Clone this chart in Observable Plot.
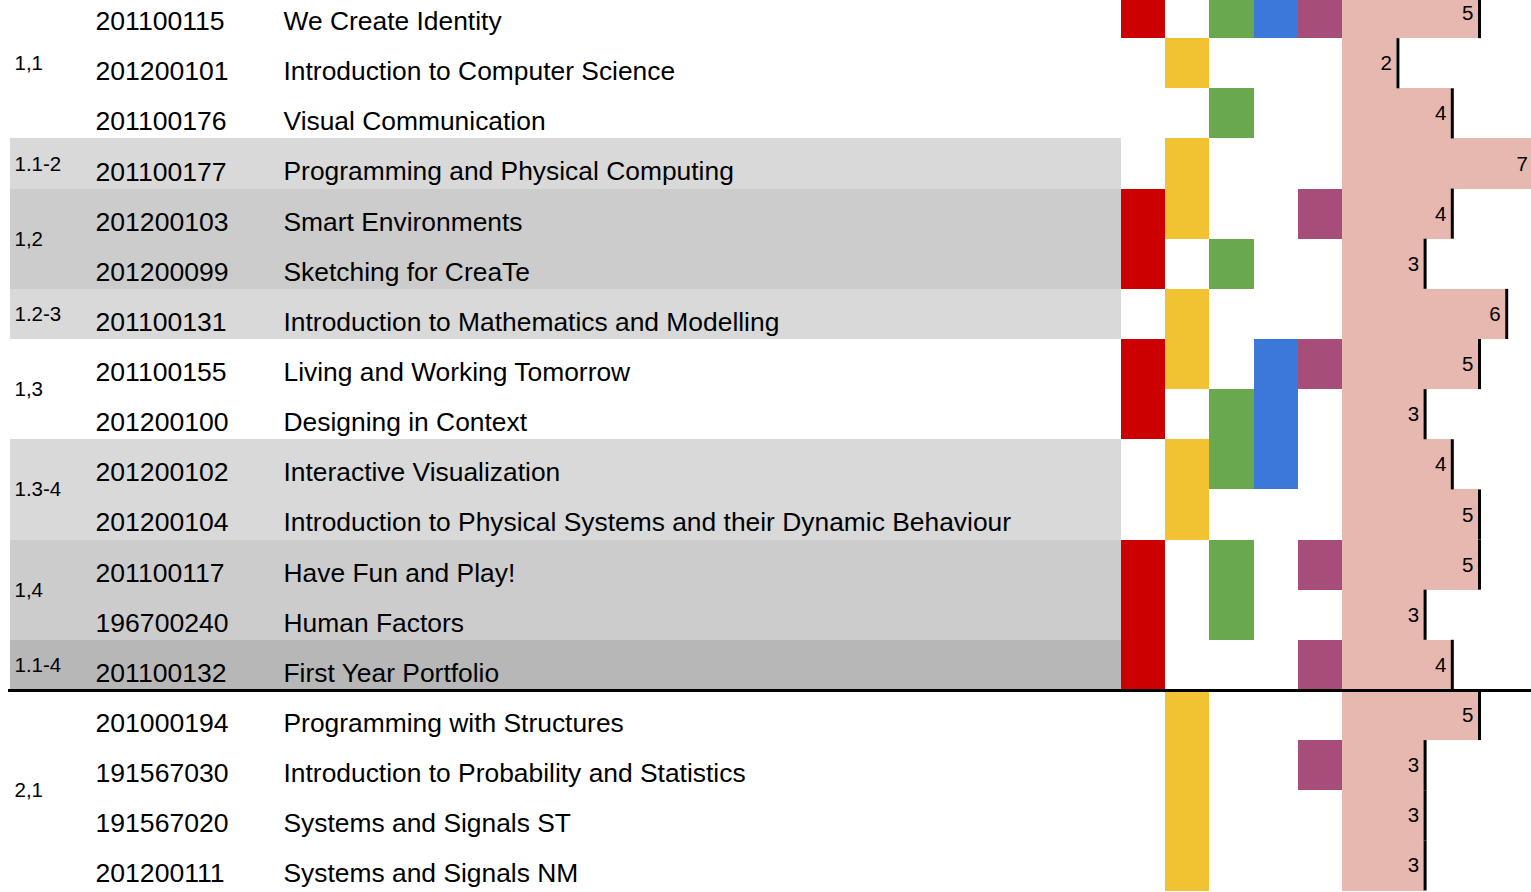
<!DOCTYPE html>
<html>
<head>
<meta charset="utf-8">
<script src="https://cdn.jsdelivr.net/npm/d3@7"></script>
<script src="https://cdn.jsdelivr.net/npm/@observablehq/plot@0.6"></script>
<style>
  html, body { margin: 0; padding: 0; background: #fff; overflow: hidden; }
  #wrap { position: relative; width: 1531px; height: 892px; }
  #wrap > div { position: absolute; top: 0; }
</style>
</head>
<body>
<div id="wrap">
  <div id="table" style="left:0px"></div>
  <div id="cells" style="left:1121px"></div>
  <div id="bars" style="left:1342px"></div>
</div>
<script>
// ---- data ----
const groups = ["1,1","1,1","1,1","1.1-2","1,2","1,2","1.2-3","1,3","1,3","1.3-4","1.3-4","1,4","1,4","1.1-4","2,1","2,1","2,1","2,1"];
const codes = ["201100115","201200101","201100176","201100177","201200103","201200099","201100131","201100155","201200100","201200102","201200104","201100117","196700240","201100132","201000194","191567030","191567020","201200111"];
const names = ["We Create Identity","Introduction to Computer Science","Visual Communication","Programming and Physical Computing","Smart Environments","Sketching for CreaTe","Introduction to Mathematics and Modelling","Living and Working Tomorrow","Designing in Context","Interactive Visualization","Introduction to Physical Systems and their Dynamic Behaviour","Have Fun and Play!","Human Factors","First Year Portfolio","Programming with Structures","Introduction to Probability and Statistics","Systems and Signals ST","Systems and Signals NM"];
const credits = [5,2,4,7,4,3,6,5,3,4,5,5,3,4,5,3,3,3];
const categories = ["A","B","C","D","E"];
const catA = [1,0,0,0,1,1,0,1,1,0,0,1,1,1,0,0,0,0];
const catB = [0,1,0,1,1,0,1,1,0,1,1,0,0,0,1,1,1,1];
const catC = [1,0,1,0,0,1,0,0,1,1,0,1,1,0,0,0,0,0];
const catD = [1,0,0,0,0,0,0,1,1,1,0,0,0,0,0,0,0,0];
const catE = [1,0,0,0,1,0,0,1,0,0,0,1,0,1,0,1,0,0];
const flags = {A: catA, B: catB, C: catC, D: catD, E: catE};

// ---- styles ----
const FONT = "'Liberation Sans', Arial, sans-serif";
const catColors = ["#cc0000", "#f1c232", "#6aa84f", "#3c78d8", "#a64d79"];
const groupShade = {"1.1-2": "#d9d9d9", "1,2": "#cccccc", "1.2-3": "#d9d9d9", "1.3-4": "#d9d9d9", "1,4": "#cccccc", "1.1-4": "#b7b7b7"};
const H = 892;
const ROW_TOP = -12, ROW_BOTTOM = 890.5;

// ---- derived tables ----
const rows = codes.map((c, i) => ({i, code: c, name: names[i], group: groups[i], value: credits[i]}));
const runs = [];
groups.forEach((g, i) => {
  if (runs.length && runs[runs.length - 1].group === g) runs[runs.length - 1].end = i + 1;
  else runs.push({group: g, start: i, end: i + 1});
});
const yearBreaks = [];
for (let i = 1; i < groups.length; i++) if (groups[i][0] !== groups[i - 1][0]) yearBreaks.push(i);
const cellData = [];
categories.forEach((cat, k) => flags[cat].forEach((f, i) => { if (f) cellData.push({k, cat, i}); }));

const yScale = {type: "linear", domain: [0, codes.length], range: [ROW_TOP, ROW_BOTTOM], axis: null};

// ---- table ----
const table = Plot.plot({
  width: 1121, height: H, margin: 0,
  style: {fontFamily: FONT, background: "transparent", color: "#000"},
  y: yScale,
  marks: [
    Plot.rect(runs.filter(r => groupShade[r.group]), {y1: "start", y2: "end", fill: r => groupShade[r.group], insetLeft: 10, shapeRendering: "crispEdges"}),
    Plot.text(runs, {y: r => (r.start + r.end) / 2, text: "group", frameAnchor: "left", textAnchor: "start", dx: 14, fontSize: 20.5, fill: "#000"}),
    Plot.text(rows, {y: r => r.i + 0.5, text: "code", frameAnchor: "left", textAnchor: "start", dx: 95, dy: 8, fontSize: 26.6, fill: "#000"}),
    Plot.text(rows, {y: r => r.i + 0.5, text: "name", frameAnchor: "left", textAnchor: "start", dx: 283, dy: 8, fontSize: 26.4, fill: "#000"}),
    Plot.ruleY(yearBreaks, {stroke: "#000", strokeWidth: 3, insetLeft: 8})
  ]
});
document.getElementById("table").appendChild(table);

// ---- colour cells ----
const cells = Plot.plot({
  width: 221, height: H, margin: 0,
  style: {background: "transparent"},
  x: {type: "linear", domain: [0, categories.length], axis: null},
  y: yScale,
  color: {type: "ordinal", domain: categories, range: catColors},
  marks: [
    Plot.rect(cellData, {x1: "k", x2: d => d.k + 1, y1: "i", y2: d => d.i + 1, fill: "cat", shapeRendering: "crispEdges"}),
    Plot.ruleY(yearBreaks, {stroke: "#000", strokeWidth: 3})
  ]
});
document.getElementById("cells").appendChild(cells);

// ---- credit bars ----
const bars = Plot.plot({
  width: 189, height: H, margin: 0,
  style: {fontFamily: FONT, background: "transparent", color: "#000"},
  x: {type: "linear", domain: [0, 7], range: [0, 190.4], axis: null},
  y: yScale,
  marks: [
    Plot.rect(rows, {x1: 0, x2: "value", y1: "i", y2: r => r.i + 1, fill: "#e6b8af", shapeRendering: "crispEdges"}),
    Plot.ruleX(rows, {x: "value", y1: "i", y2: r => r.i + 1, stroke: "#000", strokeWidth: 3, dx: 1}),
    Plot.text(rows, {x: "value", y: r => r.i + 0.5, text: "value", textAnchor: "end", dx: -5, fontSize: 20.5, fill: "#000"}),
    Plot.ruleY(yearBreaks, {stroke: "#000", strokeWidth: 3})
  ]
});
document.getElementById("bars").appendChild(bars);
</script>
</body>
</html>
